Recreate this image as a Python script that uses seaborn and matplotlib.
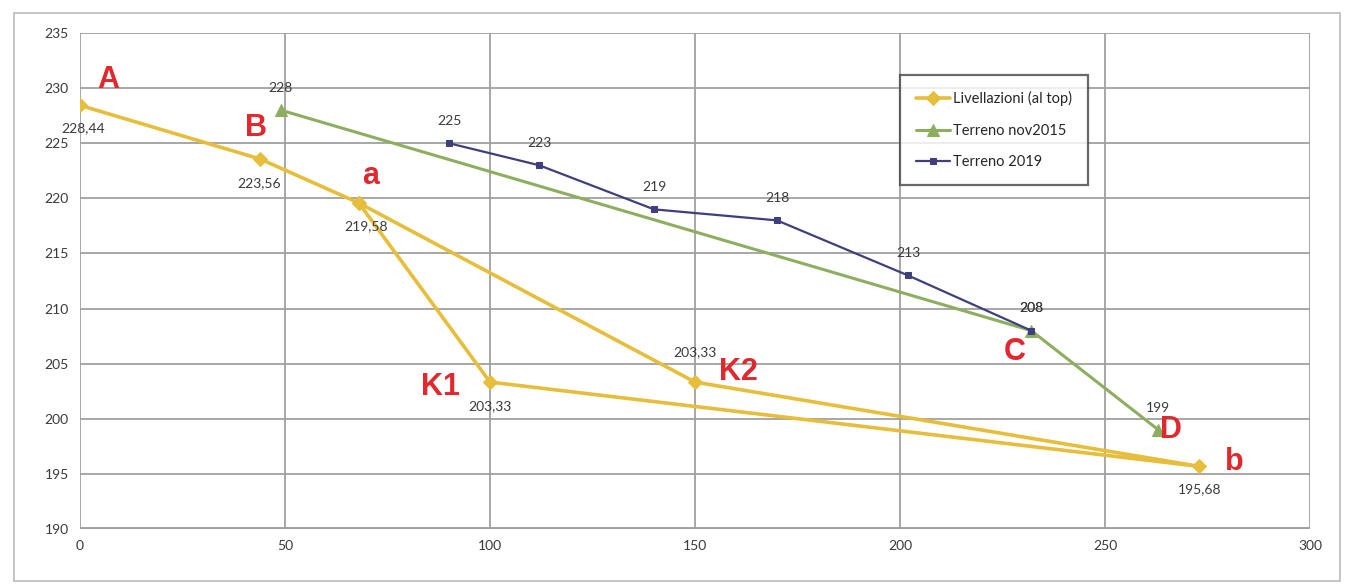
import pandas as pd
import seaborn as sns
import matplotlib.pyplot as plt
from matplotlib.patches import Rectangle

# Livellazioni (al top): percorso A-B-a-K1-b-K2-a
liv_x = [0, 44, 68, 100, 273, 150, 68]
liv_y = [228.44, 223.56, 219.58, 203.33, 195.68, 203.33, 219.58]
liv_lab = ['228,44', '223,56', '219,58', '203,33', '195,68', '203,33', None]

# Terreno nov2015
t15_x = [49, 232, 263]
t15_y = [228, 208, 199]

# Terreno 2019
t19_x = [90, 112, 140, 170, 202, 232]
t19_y = [225, 223, 219, 218, 213, 208]

# lettere dei punti
lettere = ['A', 'B', 'a', 'K1', 'K2', 'C', 'D', 'b']
lett_x = [7, 43, 71, 88, 160.5, 228, 266, 281.5]
lett_y = [230.7, 226.4, 222.0, 202.9, 204.2, 206.1, 199.0, 196.1]

GIALLO = '#E6BE3C'
VERDE = '#8DAE5E'
BLU = '#3F3F7E'
ROSSO = '#E0282E'
TESTO = '#3A3A3A'

sns.set_style('whitegrid')
plt.rcParams['font.family'] = ['Lato', 'DejaVu Sans']

fig = plt.figure(figsize=(13.51, 5.85), dpi=100)
ax = fig.add_axes([80 / 1351, 1 - 529 / 585, 1230 / 1351, 496 / 585])

sns.lineplot(x=liv_x, y=liv_y, sort=False, estimator=None, ax=ax, color=GIALLO,
             lw=2.6, marker='D', markersize=7, markeredgecolor=GIALLO,
             label='Livellazioni (al top)')
sns.lineplot(x=t15_x, y=t15_y, sort=False, estimator=None, ax=ax, color=VERDE,
             lw=2.2, marker='^', markersize=8, markeredgecolor=VERDE,
             label='Terreno nov2015')
sns.lineplot(x=t19_x, y=t19_y, sort=False, estimator=None, ax=ax, color=BLU,
             lw=1.6, marker='s', markersize=4, markeredgecolor=BLU,
             label='Terreno 2019')

# etichette valori
offs = [(2, -16.5), (-1, -17), (5, -16.5), (0, -17), (0, -16.5), (0, 21.5)]
for x, y, t, (dx, dy) in zip(liv_x, liv_y, liv_lab, offs):
    if t:
        ax.annotate(t, (x, y), xytext=(dx, dy), textcoords='offset points',
                    ha='center', va='center', fontsize=10, color=TESTO)
# le due etichette "208" si sovrappongono come nell'originale
for x, y in zip(t15_x, t15_y):
    ax.annotate(str(y), (x, y), xytext=(0, 16), textcoords='offset points',
                ha='center', va='center', fontsize=10, color=TESTO)
for x, y in zip(t19_x, t19_y):
    ax.annotate(str(y), (x, y), xytext=(0, 16), textcoords='offset points',
                ha='center', va='center', fontsize=10, color=TESTO)

for t, x, y in zip(lettere, lett_x, lett_y):
    ax.text(x, y, t, color=ROSSO, fontsize=22, fontweight='bold',
            ha='center', va='center', family='Liberation Sans')

ax.set_xlim(0, 300)
ax.set_ylim(190, 235)
ax.set_xticks(range(0, 301, 50))
ax.set_yticks(range(190, 236, 5))
ax.tick_params(labelsize=10, colors=TESTO, length=0, pad=8)
ax.grid(True, color='#A0A0A0', lw=1.3)
for s in ax.spines.values():
    s.set_visible(False)
ax.axhline(190, color='#A0A0A0', lw=2.8, zorder=0)

leg = ax.legend(loc='upper left', bbox_to_anchor=(0.661, 0.93), fontsize=10.5,
                frameon=True, fancybox=False, edgecolor='#444444',
                borderpad=1.1, labelspacing=1.2, handlelength=2.3,
                handletextpad=0.2)
leg.get_frame().set_linewidth(1.6)

# cornice dell'area grafico
fig.patches.append(Rectangle((14 / 1351, 4 / 585), 1326 / 1351, 568 / 585,
                             transform=fig.transFigure, fill=False,
                             edgecolor='#BBBBBB', lw=1.2))

fig.savefig('out.png', dpi=100)
